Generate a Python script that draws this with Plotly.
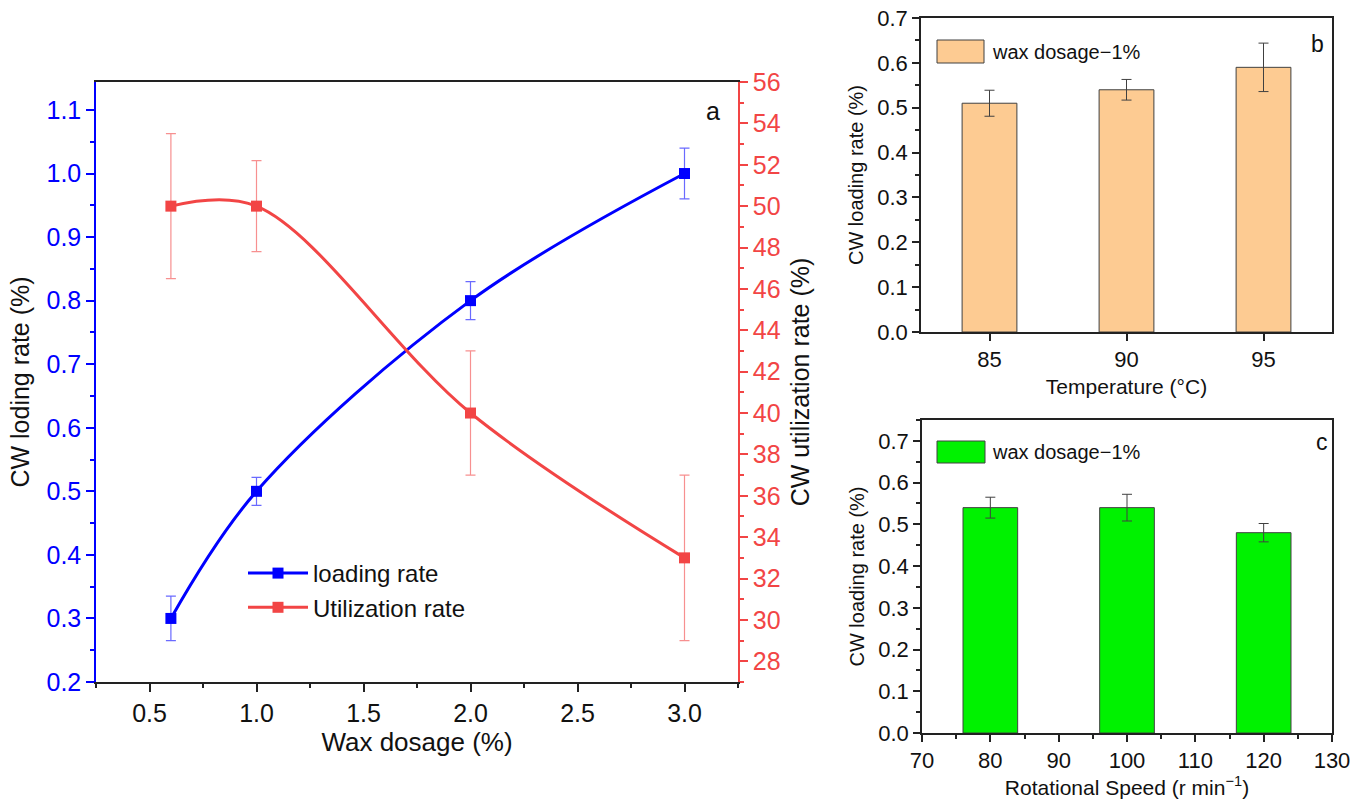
import plotly.graph_objects as go

# ---------------- data ----------------
wax_dosage = [0.6, 1.0, 2.0, 3.0]
loading_rate = [0.30, 0.50, 0.80, 1.00]
loading_err = [0.035, 0.022, 0.030, 0.040]
util_rate = [50.0, 50.0, 40.0, 33.0]
util_err = [3.5, 2.2, 3.0, 4.0]

temperature = [85, 90, 95]
temp_loading = [0.51, 0.54, 0.59]
temp_err = [0.029, 0.023, 0.054]

speed = [80, 100, 120]
speed_loading = [0.54, 0.54, 0.48]
speed_err = [0.025, 0.032, 0.022]

FONT = "Liberation Sans, Arial, sans-serif"
BLUE = "#0000FF"
RED = "#F24545"
BLUE_ERR = "#6A6AFF"
RED_ERR = "#F79090"

fig = go.Figure()

# ---- panel a ----
fig.add_trace(go.Scatter(
    x=wax_dosage, y=loading_rate, name="loading rate",
    mode="lines+markers", line=dict(color=BLUE, width=3, shape="spline", smoothing=1.0),
    marker=dict(symbol="square", size=11, color=BLUE),
    error_y=dict(type="data", array=loading_err, color=BLUE_ERR, thickness=1.2, width=5),
    xaxis="x", yaxis="y", legend="legend"))
fig.add_trace(go.Scatter(
    x=wax_dosage, y=util_rate, name="Utilization rate",
    mode="lines+markers", line=dict(color=RED, width=3, shape="spline", smoothing=1.0),
    marker=dict(symbol="square", size=11, color=RED),
    error_y=dict(type="data", array=util_err, color=RED_ERR, thickness=1.2, width=5),
    xaxis="x", yaxis="y2", legend="legend"))

# ---- panel b ----
fig.add_trace(go.Bar(
    x=temperature, y=temp_loading, width=2, name="wax dosage\u22121%",
    marker=dict(color="#FDCB92", line=dict(color="#404040", width=1)),
    error_y=dict(type="data", array=temp_err, color="#404040", thickness=1, width=5),
    xaxis="x3", yaxis="y3", showlegend=False))

# ---- panel c ----
fig.add_trace(go.Bar(
    x=speed, y=speed_loading, width=8, name="wax dosage\u22121%",
    marker=dict(color="#00F200", line=dict(color="#404040", width=1)),
    error_y=dict(type="data", array=speed_err, color="#404040", thickness=1, width=5),
    xaxis="x4", yaxis="y4", showlegend=False))

W, H = 1365, 805
def px(x): return x / W
def py(y): return 1 - y / H

tick_a = dict(size=25, family=FONT, color="#111")
tick_b = dict(size=22, family=FONT, color="#111")
common_b = dict(ticks="outside", ticklen=7, tickwidth=1.5, tickcolor="#222",
                showline=True, linecolor="#222", linewidth=1.5, mirror=True,
                showgrid=False, zeroline=False, tickfont=tick_b, automargin=False)
yt = [0, 0.1, 0.2, 0.3, 0.4, 0.5, 0.6, 0.7]
ytt = ["0.0", "0.1", "0.2", "0.3", "0.4", "0.5", "0.6", "0.7"]

fig.update_layout(
    width=W, height=H, margin=dict(l=0, r=0, t=0, b=0, autoexpand=False),
    paper_bgcolor="white", plot_bgcolor="white",
    font=dict(family=FONT, color="#111"),
    xaxis=dict(domain=[px(96), px(738)], range=[0.25, 3.25], anchor="y", automargin=False,
               tickmode="array", tickvals=[0.5, 1.0, 1.5, 2.0, 2.5, 3.0],
               ticktext=["0.5", "1.0", "1.5", "2.0", "2.5", "3.0"],
               ticks="outside", ticklen=8, tickwidth=1.5, tickcolor="#222",
               minor=dict(dtick=0.25, tick0=0.25, ticks="outside", ticklen=4, tickcolor="#222"),
               showline=True, linecolor="#222", linewidth=1.5, mirror=True,
               showgrid=False, zeroline=False, tickfont=tick_a,
               title=dict(text="Wax dosage (%)", font=dict(size=26, family=FONT), standoff=6)),
    yaxis=dict(domain=[py(682), py(82)], range=[0.2, 1.144], anchor="x", automargin=False,
               tickmode="array", tickvals=[0.2, 0.3, 0.4, 0.5, 0.6, 0.7, 0.8, 0.9, 1.0, 1.1],
               ticktext=["0.2", "0.3", "0.4", "0.5", "0.6", "0.7", "0.8", "0.9", "1.0", "1.1"],
               ticks="outside", ticklen=8, tickwidth=1.5, tickcolor=BLUE,
               minor=dict(dtick=0.05, tick0=0.2, ticks="outside", ticklen=4, tickcolor=BLUE),
               showline=True, linecolor=BLUE, linewidth=1.5,
               showgrid=False, zeroline=False, tickfont=dict(size=25, family=FONT, color=BLUE),
               title=dict(text="CW loding rate (%)", font=dict(size=25, family=FONT, color="#111"), standoff=10)),
    yaxis2=dict(overlaying="y", side="right", anchor="x", range=[27, 56], automargin=False,
                tickmode="array", tickvals=list(range(28, 57, 2)),
                ticks="outside", ticklen=8, tickwidth=1.5, tickcolor=RED,
                minor=dict(dtick=1, tick0=27, ticks="outside", ticklen=4, tickcolor=RED),
                showline=True, linecolor=RED, linewidth=1.5,
                showgrid=False, zeroline=False, tickfont=dict(size=25, family=FONT, color=RED),
                title=dict(text="CW utilization rate (%)", font=dict(size=25, family=FONT, color="#111"), standoff=12)),
    xaxis3=dict(domain=[px(921), px(1332)], range=[82.5, 97.5], anchor="y3",
                tickmode="array", tickvals=[85, 90, 95],
                title=dict(text="Temperature (\u00b0C)", font=dict(size=21, family=FONT), standoff=8),
                **common_b),
    yaxis3=dict(domain=[py(332), py(18)], range=[0, 0.7], anchor="x3",
                tickmode="array", tickvals=yt, ticktext=ytt,
                minor=dict(dtick=0.05, tick0=0, ticks="outside", ticklen=4, tickcolor="#222"),
                title=dict(text="CW loading rate (%)", font=dict(size=20, family=FONT), standoff=8),
                **common_b),
    xaxis4=dict(domain=[px(922), px(1332)], range=[70, 130], anchor="y4",
                tickmode="array", tickvals=[70, 80, 90, 100, 110, 120, 130],
                minor=dict(dtick=5, tick0=70, ticks="outside", ticklen=4, tickcolor="#222"),
                title=dict(text="Rotational Speed (r min<sup>\u22121</sup>)", font=dict(size=21, family=FONT), standoff=8),
                **common_b),
    yaxis4=dict(domain=[py(733), py(420)], range=[0, 0.75], anchor="x4",
                tickmode="array", tickvals=yt, ticktext=ytt,
                minor=dict(dtick=0.05, tick0=0, ticks="outside", ticklen=4, tickcolor="#222"),
                title=dict(text="CW loading rate (%)", font=dict(size=20, family=FONT), standoff=8),
                **common_b),
    legend=dict(x=px(243), y=py(551), xanchor="left", yanchor="top",
                bgcolor="rgba(0,0,0,0)", font=dict(size=24, family=FONT, color="#111"),
                itemwidth=60, tracegroupgap=0),
    showlegend=True,
)

# legend patches for bar panels (b, c) and panel labels
shapes = [
    dict(type="rect", xref="paper", yref="paper", x0=px(937), x1=px(984), y0=py(63), y1=py(40),
         fillcolor="#FDCB92", line=dict(color="#404040", width=1)),
    dict(type="rect", xref="paper", yref="paper", x0=px(937), x1=px(985), y0=py(463), y1=py(441),
         fillcolor="#00F200", line=dict(color="#404040", width=1)),
]
annotations = [
    dict(text="wax dosage\u22121%", xref="paper", yref="paper", x=px(990), y=py(52),
         xanchor="left", yanchor="middle", showarrow=False, font=dict(size=20, family=FONT, color="#111")),
    dict(text="wax dosage\u22121%", xref="paper", yref="paper", x=px(990), y=py(452),
         xanchor="left", yanchor="middle", showarrow=False, font=dict(size=20, family=FONT, color="#111")),
    dict(text="a", xref="paper", yref="paper", x=px(713), y=py(111),
         xanchor="center", yanchor="middle", showarrow=False, font=dict(size=25, family=FONT, color="#111")),
    dict(text="b", xref="paper", yref="paper", x=px(1317), y=py(44),
         xanchor="center", yanchor="middle", showarrow=False, font=dict(size=23, family=FONT, color="#111")),
    dict(text="c", xref="paper", yref="paper", x=px(1322), y=py(442),
         xanchor="center", yanchor="middle", showarrow=False, font=dict(size=23, family=FONT, color="#111")),
]
fig.update_layout(shapes=shapes, annotations=annotations)

fig.write_html("out.html", config={"displayModeBar": False},
               post_script="document.body.style.margin='0px';document.body.style.overflow='hidden';")
